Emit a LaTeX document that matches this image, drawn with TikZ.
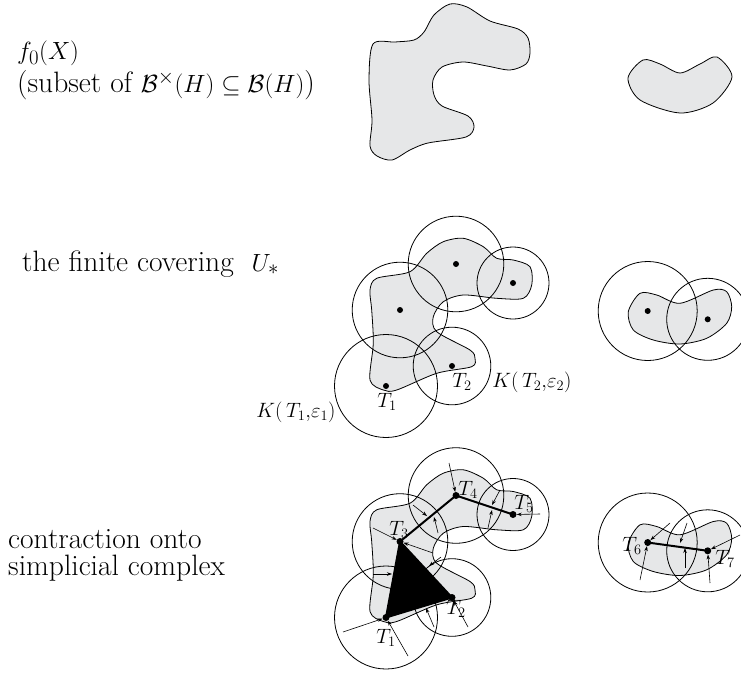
\documentclass[tikz,border=0pt]{standalone}
\usetikzlibrary{arrows.meta}
\definecolor{blobgray}{HTML}{E6E7E8}
\begin{document}
\begin{tikzpicture}[x=1pt,y=-1pt,
  blob/.style={draw=black,line width=0.8pt,fill=blobgray},
  ring/.style={draw=black,line width=0.8pt},
  dot/.style={circle,fill=black,inner sep=0pt,minimum size=6pt},
  bigdot/.style={circle,fill=black,inner sep=0pt,minimum size=7pt},
  maintext/.style={inner sep=0pt,anchor=base west,align=left,font=\fontsize{29.5}{27}\selectfont},
  lab/.style={inner sep=0pt,font=\fontsize{20}{22}\selectfont},
  arr/.style={-{Stealth[length=5pt,width=3.5pt]},line width=0.6pt},
  edge/.style={line width=2pt}]
\useasboundingbox (0,0) rectangle (741,675);
\def\blobA{(373,44) (395,42) (414,40) (424,32) (434,15) (450,4) (467,7) (490,21) (518,29) (528,38) (530,53) (526,64) (510,70) (487,66) (463,62) (442,67) (433,80) (434,95) (442,106) (468,116) (474,127) (466,137) (428,143) (410,150) (392,160) (377,156) (370,146) (372,120) (369,80)}
\def\blobRA{(628,78) (643,60) (660,64) (680,73) (700,64) (717,57) (732,77) (713,103) (680,113) (640,100)}
\def\blobB{(376.7,278.3) (410,271.7) (426.7,253.3) (443.3,241.7) (463.3,238.3) (483.3,246.7) (496.7,258.3) (513.3,260) (530,266.7) (531.7,285) (523.3,298.3) (496.7,298.3) (463.3,295) (443.3,301.7) (433.3,316.7) (436.7,331.7) (470,350) (475,358.3) (471.7,366.7) (436.7,373.3) (396.7,390) (383.3,390) (370,380) (373.3,343.3) (371.7,310) (370,290)}
\def\blobRB{(628.3,311.7) (640,293.3) (656.7,295) (680,303.3) (713.3,290) (726.7,291.7) (731.7,306.7) (726.7,323.3) (706.7,338.3) (680,344) (653.3,340) (633.3,330)}
% ---------- row 1 ----------
\node[maintext,anchor=north west] (t1) at (17,41) {$f_0(X)$\\[3pt](subset of $\mathcal{B}^{\times}(H)\subseteq\mathcal{B}(H)$)};
\draw[blob] plot[smooth cycle] coordinates {\blobA};
\draw[blob] plot[smooth cycle] coordinates {\blobRA};
% ---------- row 2 ----------
\node[maintext] (t2) at (22,271) {the finite covering\ \ $U_*$};
\draw[blob] plot[smooth cycle] coordinates {\blobB};
\draw[blob] plot[smooth cycle] coordinates {\blobRB};
\node[dot] (b1) at (386,386) {};
\node[dot] (b2) at (452,366) {};
\node[dot] (b3) at (400,310) {};
\node[dot] (b4) at (456,264) {};
\node[dot] (b5) at (513,283) {};
\node[dot] (b6) at (647.7,311) {};
\node[dot] (b7) at (707.7,319.3) {};
\draw[ring] (b1) circle[radius=51.5pt];
\draw[ring] (b2) circle[radius=38.8pt];
\draw[ring] (b3) circle[radius=47.8pt];
\draw[ring] (b4) circle[radius=47.8pt];
\draw[ring] (b5) circle[radius=36pt];
\draw[ring] (b6) circle[radius=49.5pt];
\draw[ring] (b7) circle[radius=41pt];
\node[lab] (lb1) at (387,402) {$T_1$};
\node[lab] (lb2) at (462,382) {$T_2$};
\node[lab] (k1) at (296,412) {$K(\,T_1{,}\varepsilon_1)$};
\node[lab] (k2) at (532,382) {$K(\,T_2{,}\varepsilon_2)$};
% ---------- row 3 ----------
\node[maintext,anchor=north west] (t3) at (8,529) {contraction onto\\simplicial complex};
\begin{scope}[yshift=-231.5pt]
\draw[blob] plot[smooth cycle] coordinates {\blobB};
\draw[blob] plot[smooth cycle] coordinates {\blobRB};
\end{scope}
\coordinate (c1) at (386,617.5);
\coordinate (c2) at (452,597.5);
\coordinate (c3) at (400,541.5);
\coordinate (c4) at (456,495.5);
\coordinate (c5) at (513,514.5);
\coordinate (c6) at (647.7,542.5);
\coordinate (c7) at (707.7,550.8);
\draw[ring] (c1) circle[radius=51.5pt];
\draw[ring] (c2) circle[radius=38.8pt];
\draw[ring] (c3) circle[radius=47.8pt];
\draw[ring] (c4) circle[radius=47.8pt];
\draw[ring] (c5) circle[radius=36pt];
\draw[ring] (c6) circle[radius=49.5pt];
\draw[ring] (c7) circle[radius=41pt];
\draw[edge,fill=black,line join=round] (c1) -- (c2) -- (c3) -- cycle;
\draw[edge] (c3) -- (c4) -- (c5);
\draw[edge] (c6) -- (c7);
\node[bigdot] (d1) at (c1) {};
\node[bigdot] (d2) at (c2) {};
\node[bigdot] (d3) at (c3) {};
\node[bigdot] (d4) at (c4) {};
\node[bigdot] (d5) at (c5) {};
\node[bigdot] (d6) at (c6) {};
\node[bigdot] (d7) at (c7) {};
% arrows
\coordinate (a1s) at (449,463); \draw[arr] (a1s) -- (d4);
\coordinate (a2s) at (373,528); \draw[arr] (a2s) -- (d3);
\coordinate (a3s) at (433,553); \draw[arr] (a3s) -- (d3);
\coordinate (a4s) at (343,632); \draw[arr] (a4s) -- (d1);
\coordinate (a5s) at (408,656); \draw[arr] (a5s) -- (d1);
\coordinate (a6s) at (468,627); \draw[arr] (a6s) -- (d2);
\coordinate (a7s) at (540,514); \draw[arr] (a7s) -- (d5);
\coordinate (a8s) at (373,574); \coordinate (a8e) at (392,574); \draw[arr] (a8s) -- (a8e);
\coordinate (a9s) at (434,627); \coordinate (a9e) at (426,608); \draw[arr] (a9s) -- (a9e);
\coordinate (a10s) at (441,557); \coordinate (a10e) at (429,566); \draw[arr] (a10s) -- (a10e);
\coordinate (a11s) at (413,505); \coordinate (a11e) at (427,516); \draw[arr] (a11s) -- (a11e);
\coordinate (a12s) at (438,533); \coordinate (a12e) at (434,517); \draw[arr] (a12s) -- (a12e);
\coordinate (a13s) at (500,490); \coordinate (a13e) at (492,505); \draw[arr] (a13s) -- (a13e);
\coordinate (a14s) at (488,528); \coordinate (a14e) at (492,510); \draw[arr] (a14s) -- (a14e);
\coordinate (a15s) at (670,523); \draw[arr] (a15s) -- (d6);
\coordinate (a16s) at (640,580); \draw[arr] (a16s) -- (d6);
\coordinate (a17s) at (687,523); \coordinate (a17e) at (680,543); \draw[arr] (a17s) -- (a17e);
\coordinate (a18s) at (685,568); \coordinate (a18e) at (685,548); \draw[arr] (a18s) -- (a18e);
\coordinate (a19s) at (740,535); \draw[arr] (a19s) -- (d7);
\coordinate (a20s) at (710,583); \draw[arr] (a20s) -- (d7);
% labels
\node[lab] (l3) at (399,530) {$T_3$};
\node[lab] (l4) at (468,490) {$T_4$};
\node[lab] (l5) at (524,504) {$T_5$};
\node[lab] (l1) at (386,638) {$T_1$};
\node[lab] (l2) at (456,609) {$T_2$};
\node[lab] (l6) at (632,546) {$T_6$};
\node[lab] (l7) at (725,559) {$T_7$};
\end{tikzpicture}
\end{document}
